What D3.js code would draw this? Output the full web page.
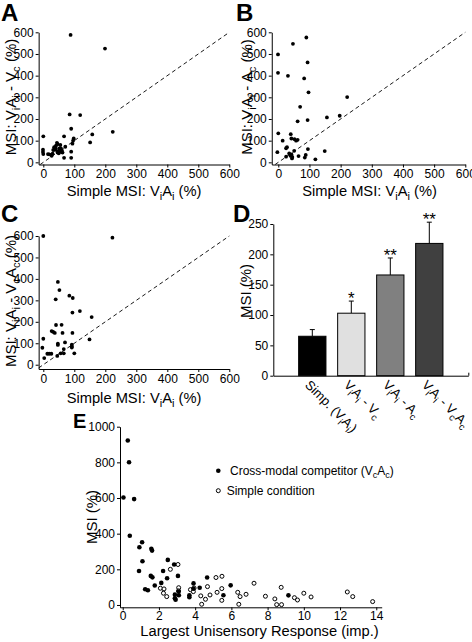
<!DOCTYPE html>
<html><head><meta charset="utf-8">
<script src="https://cdn.jsdelivr.net/npm/d3@7/dist/d3.min.js"></script>
<style>body{margin:0;background:#fff}svg{display:block}</style>
</head><body>
<svg id="chart" width="472" height="642"></svg>
<script>
// ---------------- DATA ----------------
const scatterTicks = [0,100,200,300,400,500,600];
const panelA = [[88,588],[199,525],[224,141],[85,221],[119,218],[90,155],[0,120],[67,120],[158,129],[151,92],[98,110],[96,100],[94,86],[90,49],[90,21],[67,21],[-1,58],[-1,48],[0,38],[71,72],[57,64],[46,84],[41,77],[35,70],[50,49],[46,52],[58,49],[60,55],[19,37],[26,34],[27,30],[32,57],[38,58],[52,64],[46,45],[50,42],[40,65],[44,90],[55,80],[30,40],[15,38],[62,45]];
const panelB = [[90,576],[47,547],[-1,498],[94,461],[-1,413],[31,399],[83,387],[97,323],[221,301],[70,256],[156,207],[197,215],[62,189],[94,195],[0,134],[40,130],[14,100],[42,110],[52,107],[57,100],[62,104],[-3,47],[28,70],[25,65],[35,41],[42,37],[39,30],[44,18],[25,26],[51,53],[65,29],[95,61],[88,34],[85,22],[119,14],[149,52],[45,25]];
const panelC = [[0,600],[223,592],[47,386],[52,348],[40,305],[84,322],[95,311],[94,243],[118,250],[156,222],[41,185],[59,186],[27,157],[32,153],[37,148],[0,121],[62,148],[94,148],[149,118],[47,92],[47,98],[70,104],[-3,79],[92,93],[92,85],[92,80],[66,73],[13,51],[19,51],[26,51],[56,53],[66,53],[100,53],[3,31],[45,41]];
const barCats = ["Simp. (V_iA_i)","V_iA_i - V_c","V_iA_i - A_c","V_iA_i - V_cA_c"];
const barMeans = [65,103,166,218];
const barSems = [11,20,28,35];
const barStars = ["","*","**","**"];
const barColors = ["#000000","#e0e0e0","#808080","#404040"];
const barTicks = [0,50,100,150,200,250];
const crossModal = [[0.28,923],[0.35,801],[0.04,603],[0.63,594],[0.39,388],[1.07,352],[0.92,324],[1.58,315],[1.62,305],[1.09,245],[0.9,191],[2.49,253],[2.84,227],[1.55,163],[1.64,155],[2.23,191],[2.45,150],[3.05,163],[1.77,109],[2.13,124],[1.24,88],[1.39,83],[3.91,121],[4.66,154],[5.96,110],[4.25,97],[3.9,91],[2.88,58],[2.88,38],[2.92,30],[3.09,75],[3.1,55],[3.68,54],[3.68,44],[5.56,55],[9.15,54]];
const simpleCond = [[3.05,227],[2.63,200],[2.08,94],[2.28,90],[2.25,66],[2.43,47],[3.09,97],[3.08,79],[3.74,86],[3.94,95],[3.9,75],[4.31,51],[4.57,32],[4.36,4],[4.68,103],[4.82,56],[5.15,154],[5.48,161],[5.21,71],[5.47,92],[5.47,26],[6.35,71],[6.48,47],[6.81,60],[6.41,4],[7.25,122],[7.88,49],[8.4,34],[8.5,2],[8.75,99],[8.77,2],[9.48,41],[9.65,28],[10.0,66],[10.4,45],[12.4,73],[12.7,47],[13.8,19]];
const eXTicks = [0,2,4,6,8,10,12,14];
const eYTicks = [0,200,400,600,800,1000];

// ---------------- HELPERS ----------------
const FONT = "'Liberation Sans', Arial, Helvetica, sans-serif";
const svg = d3.select("#chart").attr("font-family", FONT);

function rich(textSel, str, fs) {
  // "_x" marks a single-character subscript
  const parts = [];
  for (let i = 0; i < str.length; i++) {
    if (str[i] === "_" && i + 1 < str.length) { parts.push({t: str[i+1], sub: true}); i++; }
    else {
      if (parts.length && !parts[parts.length-1].sub) parts[parts.length-1].t += str[i];
      else parts.push({t: str[i], sub: false});
    }
  }
  let shifted = false;
  const sh = fs * 0.28;
  parts.forEach(p => {
    const ts = textSel.append("tspan").text(p.t);
    if (p.sub) {
      ts.attr("font-size", fs * 0.75);
      ts.attr("dy", shifted ? 0 : sh);
      shifted = true;
    } else {
      ts.attr("dy", shifted ? -sh : 0);
      shifted = false;
    }
  });
  return textSel;
}

function styleAxis(g, fs) {
  g.selectAll("path.domain").attr("stroke", "#000").attr("stroke-width", 1);
  g.selectAll(".tick line").attr("stroke", "#000");
  g.selectAll(".tick text").attr("font-size", fs).attr("font-family", FONT).attr("fill", "#000");
}

function panelLetter(letter, x, y, fs) {
  svg.append("text").attr("x", x).attr("y", y).attr("font-size", fs)
    .attr("font-weight", "bold").text(letter);
}

function yLabel(str, x, y, fs) {
  const t = svg.append("text").attr("transform", `translate(${x},${y}) rotate(-90)`)
    .attr("text-anchor", "middle").attr("font-size", fs);
  rich(t, str, fs);
}
function xLabel(str, x, y, fs) {
  const t = svg.append("text").attr("x", x).attr("y", y)
    .attr("text-anchor", "middle").attr("font-size", fs);
  rich(t, str, fs);
}

const fmt = d3.format("d");

function scatter(opts) {
  const x = d3.scaleLinear().domain(opts.xDom).range(opts.xRange);
  const y = d3.scaleLinear().domain(opts.yDom).range(opts.yRange);
  const g = svg.append("g");
  // dashed unity line
  const lo = Math.max(opts.xDom[0], opts.yDom[0]);
  g.append("line").attr("x1", x(lo)).attr("y1", y(lo)).attr("x2", x(600)).attr("y2", y(600))
    .attr("stroke", "#000").attr("stroke-width", 0.9).attr("stroke-dasharray", "4,3");
  g.selectAll("circle").data(opts.data).join("circle")
    .attr("cx", d => x(d[0])).attr("cy", d => y(d[1])).attr("r", 1.9).attr("fill", "#000");
  const ax = g.append("g").attr("transform", `translate(0,${opts.yRange[0]})`)
    .call(d3.axisBottom(x).tickValues(scatterTicks).tickFormat(fmt).tickSize(3).tickPadding(2).tickSizeOuter(0));
  styleAxis(ax, 12);
  const ay = g.append("g").attr("transform", `translate(${opts.xRange[0]},0)`)
    .call(d3.axisLeft(y).tickValues(scatterTicks).tickFormat(fmt).tickSize(3).tickPadding(2).tickSizeOuter(0));
  styleAxis(ay, 12);
}

const LBL = 14.7, YLBL = 15;

// ---------------- PANEL A ----------------
scatter({data: panelA, xDom: [-15, 600], yDom: [-10, 600], xRange: [38.65, 229.3], yRange: [164.5, 32.3]});
panelLetter("A", 1, 21, 24);
yLabel("MSI: V_iA_i - V_c (%)", 16, 97, YLBL);
xLabel("Simple MSI: V_iA_i (%)", 134, 196, LBL);

// ---------------- PANEL B ----------------
scatter({data: panelB, xDom: [-21, 600], yDom: [-10, 600], xRange: [271.75, 465.3], yRange: [164.5, 32.3]});
panelLetter("B", 236, 21, 24);
yLabel("MSI: V_iA_i - A_c (%)", 252, 97, YLBL);
xLabel("Simple MSI: V_iA_i (%)", 369.5, 196, LBL);

// ---------------- PANEL C ----------------
scatter({data: panelC, xDom: [-15, 600], yDom: [-20, 600], xRange: [38.65, 229.3], yRange: [369, 236]});
panelLetter("C", 1, 222, 24);
yLabel("MSI: V_iA_i - V_cA_c (%)", 16, 301, YLBL);
xLabel("Simple MSI: V_iA_i (%)", 134, 403, LBL);

// ---------------- PANEL D ----------------
(function(){
  const x = d3.scaleLinear().domain([0, 5]).range([273.3, 468.3]);
  const y = d3.scaleLinear().domain([0, 250]).range([375.7, 224]);
  const g = svg.append("g");
  const bw = 0.7;
  barMeans.forEach((m, i) => {
    const cx = x(i + 1);
    g.append("line").attr("x1", cx).attr("x2", cx).attr("y1", y(m)).attr("y2", y(m + barSems[i]))
      .attr("stroke", "#000").attr("stroke-width", 1);
    g.append("line").attr("x1", cx - 2.5).attr("x2", cx + 2.5).attr("y1", y(m + barSems[i])).attr("y2", y(m + barSems[i]))
      .attr("stroke", "#000").attr("stroke-width", 1);
    if (barStars[i]) {
      g.append("text").attr("x", cx).attr("y", y(m + barSems[i]) + 3).attr("text-anchor", "middle")
        .attr("font-size", 17).text(barStars[i]);
    }
  });
  g.selectAll("rect").data(barMeans).join("rect")
    .attr("x", (d, i) => x(i + 1 - bw / 2)).attr("width", (d, i) => x(i + 1 + bw / 2) - x(i + 1 - bw / 2))
    .attr("y", d => y(d)).attr("height", d => y(0) - y(d))
    .attr("fill", (d, i) => barColors[i]).attr("stroke", "#000").attr("stroke-width", 1);
  const ax = g.append("g").attr("transform", `translate(0,${y(0)})`)
    .call(d3.axisBottom(x).tickValues([5]).tickSize(-3).tickFormat("").tickSizeOuter(0));
  styleAxis(ax, 12);
  const ay = g.append("g").attr("transform", `translate(${x(0)},0)`)
    .call(d3.axisLeft(y).tickValues(barTicks).tickFormat(fmt).tickSize(3).tickPadding(2).tickSizeOuter(0));
  styleAxis(ay, 12);
  barCats.forEach((c, i) => {
    const t = svg.append("text").attr("transform", `translate(${x(i + 1) - 8},${y(0) + 10}) rotate(45)`)
      .attr("font-size", 13);
    rich(t, c, 13);
  });
})();
panelLetter("D", 233, 222, 24);
yLabel("MSI (%)", 251, 291, YLBL);

// ---------------- PANEL E ----------------
(function(){
  const x = d3.scaleLinear().domain([-0.15, 14.3]).range([120, 381.7]);
  const y = d3.scaleLinear().domain([-13, 1000]).range([607.3, 426.7]);
  const g = svg.append("g");
  g.selectAll("circle.simple").data(simpleCond).join("circle").attr("class", "simple")
    .attr("cx", d => x(d[0])).attr("cy", d => y(d[1])).attr("r", 2)
    .attr("fill", "#fff").attr("stroke", "#000").attr("stroke-width", 1);
  g.selectAll("circle.cross").data(crossModal).join("circle").attr("class", "cross")
    .attr("cx", d => x(d[0])).attr("cy", d => y(d[1])).attr("r", 2.3).attr("fill", "#000");
  const ax = g.append("g").attr("transform", `translate(0,${y.range()[0]})`)
    .call(d3.axisBottom(x).tickValues(eXTicks).tickFormat(fmt).tickSize(3).tickPadding(1).tickSizeOuter(0));
  styleAxis(ax, 12);
  const ay = g.append("g").attr("transform", `translate(${x.range()[0]},0)`)
    .call(d3.axisLeft(y).tickValues(eYTicks).tickFormat(fmt).tickSize(3).tickPadding(2).tickSizeOuter(0));
  styleAxis(ay, 12);
  // legend
  g.append("circle").attr("cx", 218.3).attr("cy", 470.7).attr("r", 2.3).attr("fill", "#000");
  rich(g.append("text").attr("x", 230).attr("y", 475).attr("font-size", 12), "Cross-modal competitor (V_cA_c)", 12);
  g.append("circle").attr("cx", 218.3).attr("cy", 490.7).attr("r", 2).attr("fill", "#fff").attr("stroke", "#000");
  rich(g.append("text").attr("x", 226.7).attr("y", 495).attr("font-size", 12), "Simple condition", 12);
})();
panelLetter("E", 73, 428, 20);
yLabel("MSI (%)", 97, 517, YLBL);
xLabel("Largest Unisensory Response (imp.)", 259.5, 636, LBL);
</script>
</body></html>
